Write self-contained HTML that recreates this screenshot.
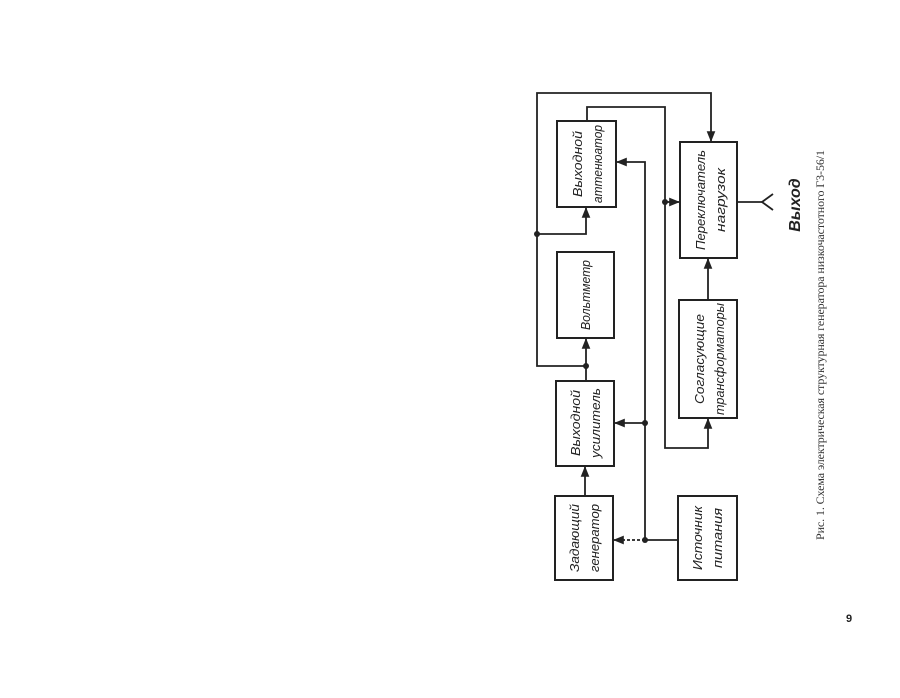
<!DOCTYPE html>
<html><head><meta charset="utf-8"><style>
html,body{margin:0;padding:0;background:#fff;width:900px;height:698px;overflow:hidden}
svg{display:block}
.b{fill:none;stroke:#222;stroke-width:2}
.l{fill:none;stroke:#222;stroke-width:1.8}
.t{font-family:"Liberation Sans",sans-serif;font-style:italic;font-size:13px;fill:#222}
</style></head><body>
<svg width="900" height="698" viewBox="0 0 900 698" xmlns="http://www.w3.org/2000/svg">
<defs>
<marker id="a" viewBox="0 0 10 10" refX="10" refY="5" markerWidth="6" markerHeight="6" orient="auto-start-reverse"><path d="M0,1 L10,5 L0,9 z" fill="#222"/></marker>
</defs>
<rect class="b" x="557" y="121" width="59" height="86"/>
<rect class="b" x="557" y="252" width="57" height="86"/>
<rect class="b" x="556" y="381" width="58" height="85"/>
<rect class="b" x="555" y="496" width="58" height="84"/>
<rect class="b" x="680" y="142" width="57" height="116"/>
<rect class="b" x="679" y="300" width="58" height="118"/>
<rect class="b" x="678" y="496" width="59" height="84"/>
<polyline class="l" points="586,366 537,366 537,93 711,93 711,142" marker-end="url(#a)"/>
<polyline class="l" points="537,234 586,234 586,207" marker-end="url(#a)"/>
<line class="l" x1="586" y1="381" x2="586" y2="338" marker-end="url(#a)"/>
<polyline class="l" points="587,121 587,107 665,107 665,448 708,448 708,418" marker-end="url(#a)"/>
<line class="l" x1="665" y1="202" x2="680" y2="202" marker-end="url(#a)"/>
<polyline class="l" points="678,540 645,540 645,162 616,162" marker-end="url(#a)"/>
<line class="l" x1="645" y1="423" x2="614" y2="423" marker-end="url(#a)"/>
<line class="l" x1="645" y1="540" x2="613" y2="540" stroke-dasharray="3,2" marker-end="url(#a)"/>
<line class="l" x1="585" y1="496" x2="585" y2="466" marker-end="url(#a)"/>
<line class="l" x1="708" y1="300" x2="708" y2="258" marker-end="url(#a)"/>
<polyline class="l" points="737,202 762,202"/>
<polyline class="l" points="773,194 762,202 773,210"/>
<g fill="#222"><circle cx="537" cy="234" r="3"/><circle cx="586" cy="366" r="3"/><circle cx="665" cy="202" r="3"/><circle cx="645" cy="423" r="3"/><circle cx="645" cy="540" r="3"/></g>
<g class="t" text-anchor="middle" lengthAdjust="spacingAndGlyphs">
<text transform="translate(582,164) rotate(-90)" textLength="66" lengthAdjust="spacingAndGlyphs">Выходной</text>
<text transform="translate(602,164) rotate(-90)" textLength="78" lengthAdjust="spacingAndGlyphs">аттенюатор</text>
<text transform="translate(590,295) rotate(-90)" textLength="70" lengthAdjust="spacingAndGlyphs">Вольтметр</text>
<text transform="translate(580,423) rotate(-90)" textLength="66" lengthAdjust="spacingAndGlyphs">Выходной</text>
<text transform="translate(600,423) rotate(-90)" textLength="70" lengthAdjust="spacingAndGlyphs">усилитель</text>
<text transform="translate(579,538) rotate(-90)" textLength="68" lengthAdjust="spacingAndGlyphs">Задающий</text>
<text transform="translate(599,538) rotate(-90)" textLength="68" lengthAdjust="spacingAndGlyphs">генератор</text>
<text transform="translate(705,200) rotate(-90)" textLength="100" lengthAdjust="spacingAndGlyphs">Переключатель</text>
<text transform="translate(725,200) rotate(-90)" textLength="64" lengthAdjust="spacingAndGlyphs">нагрузок</text>
<text transform="translate(704,359) rotate(-90)" textLength="90" lengthAdjust="spacingAndGlyphs">Согласующие</text>
<text transform="translate(724,359) rotate(-90)" textLength="112" lengthAdjust="spacingAndGlyphs">трансформаторы</text>
<text transform="translate(702,538) rotate(-90)" textLength="64" lengthAdjust="spacingAndGlyphs">Источник</text>
<text transform="translate(722,538) rotate(-90)" textLength="60" lengthAdjust="spacingAndGlyphs">питания</text>
<text transform="translate(800,205) rotate(-90)" style="font-size:16px;font-weight:bold">Выход</text>
</g>
<text transform="translate(824,345) rotate(-90)" text-anchor="middle" font-family="Liberation Serif,serif" font-size="12" fill="#333" textLength="390" lengthAdjust="spacing">Рис. 1. Схема электрическая структурная генератора низкочастотного Г3-56/1</text>
<text x="846" y="622" font-family="Liberation Sans,sans-serif" font-size="11" font-weight="bold" fill="#222">9</text>
</svg>
</body></html>
